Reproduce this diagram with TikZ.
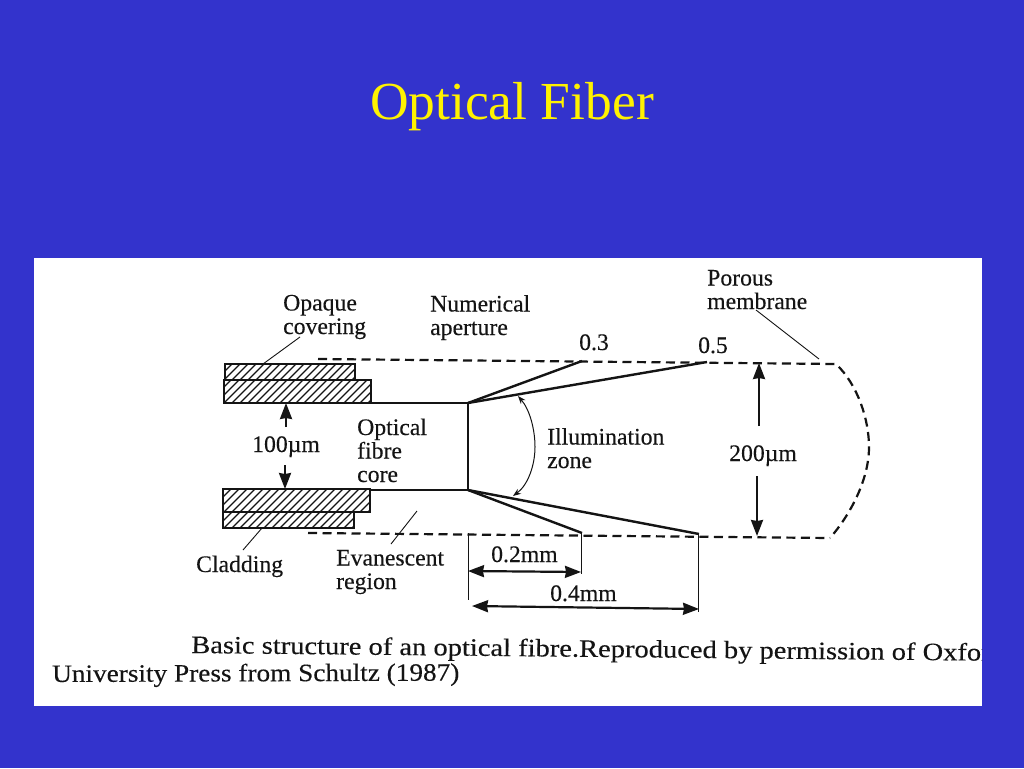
\documentclass[tikz,border=0pt]{standalone}
\usepackage{fontspec}
\setmainfont{Liberation Serif}
\newfontfamily\scanfont[FakeBold=0.25]{Liberation Serif}
\usetikzlibrary{arrows.meta}
\definecolor{slideblue}{HTML}{3333CC}
\definecolor{ink}{HTML}{141414}
\tikzset{
  lab/.style={anchor=base west,inner sep=0pt,align=left,text=ink,font=\scanfont\fontsize{23.7}{23.5}\selectfont},
  capt/.style={anchor=base west,inner sep=0pt,text=ink},
  frame/.style={draw=ink,line width=2pt},
  hatchline/.style={draw=ink,line width=1.3pt},
  wall/.style={draw=ink,line width=2.2pt},
  beam/.style={draw=ink,line width=2.4pt},
  bound/.style={draw=ink,line width=2.2pt,dash pattern=on 9pt off 5.5pt},
  leader/.style={draw=ink,line width=0.9pt},
  dim/.style={draw=ink,line width=2.2pt,{Stealth[length=16pt,width=12pt,inset=1pt]}-{Stealth[length=16pt,width=12pt,inset=1pt]}},
  dimone/.style={draw=ink,line width=2.2pt,-{Stealth[length=16pt,width=12pt,inset=1pt]}},
  ext/.style={draw=ink,line width=1pt},
}
\newcommand{\hatchbox}[4]{%
  \begin{scope}
    \clip (#1,#2) rectangle (#3,#4);
    \foreach \hx in {200,208,...,400} {
      \draw[hatchline] (\hx,#4) -- ++(30,-30);
    }
  \end{scope}
  \draw[frame] (#1,#2) rectangle (#3,#4);
}
\begin{document}
\begin{tikzpicture}[x=1pt,y=-1pt]
\useasboundingbox (0,0) rectangle (1024,768);
\fill[slideblue] (0,0) rectangle (1024,768);
\fill[white] (34,258) rectangle (982,706);
\node[anchor=base,inner sep=0pt,text=yellow,font=\fontsize{53.5}{56}\selectfont] (title) at (512,119) {Optical Fiber};

% fibre end
\hatchbox{225}{364}{355}{380}
\hatchbox{224}{380}{371}{403}
\hatchbox{223}{489}{370}{512}
\hatchbox{223}{512}{354}{528}

\coordinate (ct0) at (371,403);
\coordinate (ct) at (468,403);
\coordinate (cb0) at (370,490);
\coordinate (cb) at (468,490);
\draw[wall] (ct0) -- (ct) -- (cb) -- (cb0);

\coordinate (t3) at (582,361);
\coordinate (t5) at (707,362);
\coordinate (b3) at (582,533);
\coordinate (b5) at (699,534);
\draw[beam] (ct) -- (t3);
\draw[beam] (ct) -- (t5);
\draw[beam] (cb) -- (b3);
\draw[beam] (cb) -- (b5);

% evanescent region boundary
\coordinate (tl) at (318,359);
\coordinate (tr) at (836,364);
\coordinate (br) at (830,538);
\coordinate (bl) at (308,533);
\draw[bound] (tl) -- (tr) .. controls (858,385) and (869,420) .. (869,447)
  .. controls (869,480) and (850,515) .. (br);
\draw[bound] (bl) -- (br);

% illumination arc
\coordinate (ia) at (518,396);
\coordinate (ib) at (513,496);
\draw[draw=ink,line width=1pt,{Stealth[length=8pt,width=6pt]}-{Stealth[length=8pt,width=6pt]}] (ia) .. controls (530,410) and (535,430) .. (535,447) .. controls (535,465) and (528,485) .. (ib);

% leaders
\coordinate (l1a) at (300,337); \coordinate (l1b) at (263,364);
\coordinate (l2a) at (262,528); \coordinate (l2b) at (243,550);
\coordinate (l3a) at (417,511); \coordinate (l3b) at (391,544);
\coordinate (l4a) at (756,310); \coordinate (l4b) at (819,359);
\draw[leader] (l1a) -- (l1b);
\draw[leader] (l2a) -- (l2b);
\draw[leader] (l3a) -- (l3b);
\draw[leader] (l4a) -- (l4b);

% extension lines
\coordinate (e1a) at (468,533); \coordinate (e1b) at (468,600);
\coordinate (e2a) at (581,533); \coordinate (e2b) at (581,574);
\coordinate (e3a) at (698,535); \coordinate (e3b) at (698,612);
\draw[ext] (e1a) -- (e1b);
\draw[ext] (e2a) -- (e2b);
\draw[ext] (e3a) -- (e3b);

% dimensions
\coordinate (d1a) at (468,571); \coordinate (d1b) at (581,572);
\coordinate (d2a) at (472,606); \coordinate (d2b) at (699,609);
\draw[dim] (d1a) -- (d1b);
\draw[dim] (d2a) -- (d2b);
\coordinate (u1a) at (286,427); \coordinate (u1b) at (286,403);
\coordinate (u2a) at (285,465); \coordinate (u2b) at (285,489);
\draw[dimone] (u1a) -- (u1b);
\draw[dimone] (u2a) -- (u2b);
\coordinate (v1a) at (759,426); \coordinate (v1b) at (759,363);
\coordinate (v2a) at (757,476); \coordinate (v2b) at (757,536);
\draw[dimone] (v1a) -- (v1b);
\draw[dimone] (v2a) -- (v2b);

% labels
\node[lab] (opaque) at (283,334) {Opaque\\covering};
\node[lab] (numap) at (430,335) {Numerical\\aperture};
\node[lab] (porous) at (707,309) {Porous\\membrane};
\node[lab] (na3) at (579,350) {0.3};
\node[lab] (na5) at (698,353) {0.5};
\node[lab] (core) at (357,482) {Optical\\fibre\\core};
\node[lab] (illum) at (547,468) {Illumination\\zone};
\node[lab] (um100) at (252,452) {100µm};
\node[lab] (um200) at (729,461) {200µm};
\node[lab] (cladding) at (196,572) {Cladding};
\node[lab] (evan) at (336,589) {Evanescent\\region};
\node[lab] (mm2) at (491,562) {0.2mm};
\node[lab] (mm4) at (550,601) {0.4mm};

% caption
\begin{scope}
\clip (34,258) rectangle (982,706);
\node[capt,rotate=-0.55,xscale=1.14,font=\scanfont\fontsize{25}{27}\selectfont] (cap1) at (191,653) {Basic structure of an optical fibre.Reproduced by permission of Oxford};
\node[capt,rotate=0.2,xscale=1.09,font=\scanfont\fontsize{25}{27}\selectfont] (cap2) at (52,682) {University Press from Schultz (1987)};
\end{scope}
\end{tikzpicture}
\end{document}
